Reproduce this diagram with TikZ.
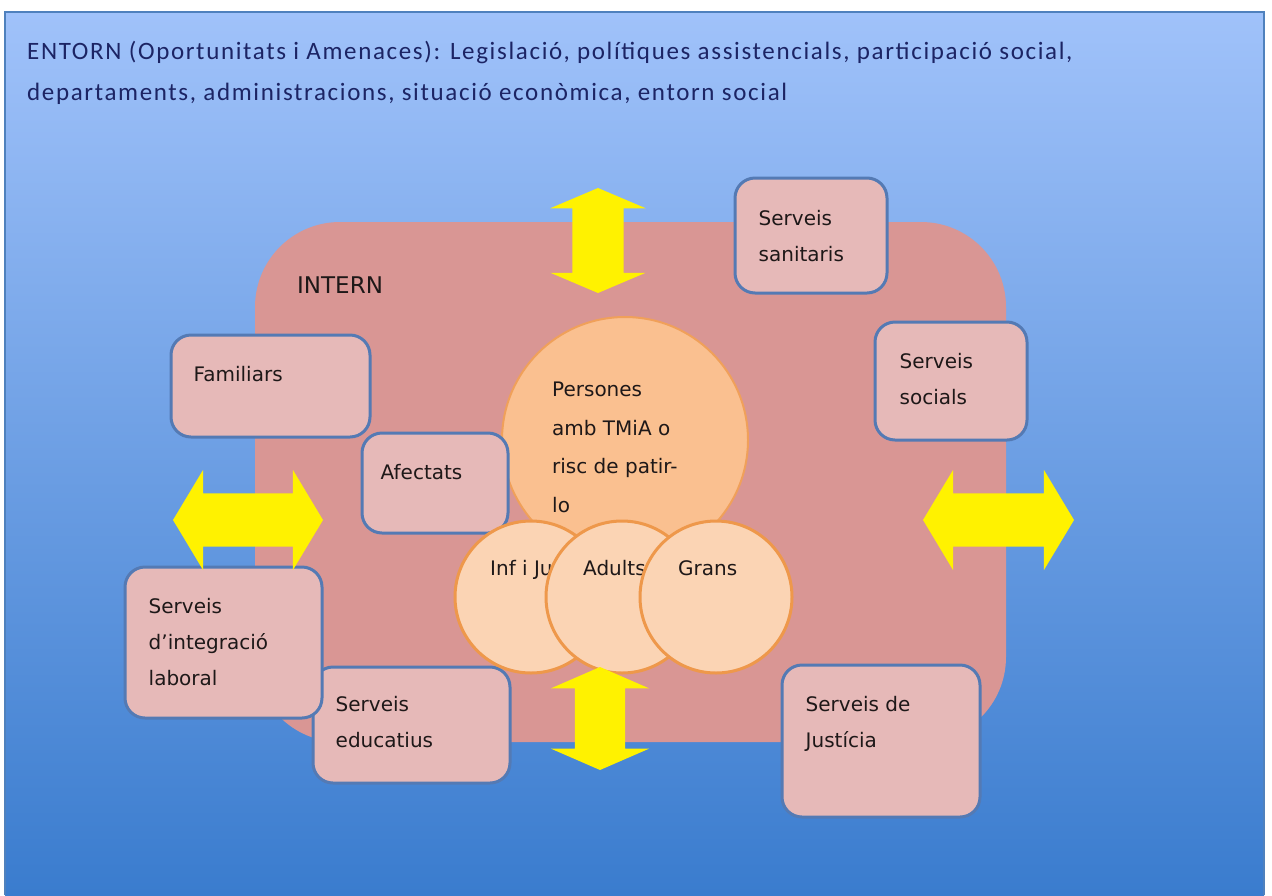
\documentclass[tikz,border=0pt]{standalone}
\usepackage{fontspec}
\setmainfont{DejaVu Sans}
\newfontfamily\headfont[LetterSpace=6.6]{Carlito}
\usetikzlibrary{shapes.arrows}

\definecolor{skytop}{RGB}{160,194,250}
\definecolor{skybot}{RGB}{58,124,206}
\definecolor{skyline}{RGB}{79,129,189}
\definecolor{interncol}{RGB}{217,150,148}
\definecolor{boxfill}{RGB}{230,185,184}
\definecolor{boxline}{RGB}{84,122,180}
\definecolor{persfill}{RGB}{250,192,144}
\definecolor{persline}{RGB}{240,160,90}
\definecolor{agefill}{RGB}{251,212,180}
\definecolor{ageline}{RGB}{238,152,75}
\definecolor{navytext}{RGB}{28,36,100}
\definecolor{darktext}{RGB}{30,24,24}

\begin{document}
\begin{tikzpicture}[x=1pt, y=-1pt,
  service/.style={draw=boxline, line width=3pt, fill=boxfill, rounded corners=20pt, inner sep=0pt},
  agegroup/.style={circle, draw=ageline, line width=3pt, fill=agefill, minimum size=152pt, inner sep=0pt},
  lbl/.style={font=\fontsize{20}{36}\selectfont, text=darktext, align=left, inner sep=0pt, anchor=north west},
  twoway/.style={double arrow, fill=yellow, draw=none, inner xsep=0pt}
]

% Page and the blue ENTORN panel
\useasboundingbox (0,0) rectangle (1272,895);
\fill[white] (0,0) rectangle (1272,895);
\shade[top color=skytop, bottom color=skybot] (5,12) rectangle (1264,895);
\draw[skyline, line width=2pt] (5,895) -- (5,12) -- (1264,12) -- (1264,895);

% Header text
\node[anchor=base west, inner sep=0pt, text=navytext, font=\headfont\fontsize{25}{25}\selectfont] (hdr1) at (27,59)
  {ENTORN (Oportunitats i Amenaces): Legislació, polítiques assistencials, participació social,};
\node[anchor=base west, inner sep=0pt, text=navytext, font=\headfont\fontsize{25}{25}\selectfont] (hdr2) at (27,100)
  {departaments, administracions, situació econòmica, entorn social};

% The INTERN area
\node[fill=interncol, rounded corners=85pt, minimum width=751pt, minimum height=520pt, inner sep=0pt] (intern) at (630.5,482) {};
\node[anchor=base west, inner sep=0pt, text=darktext, font=\fontsize{23}{23}\selectfont] (internlbl) at (297,293) {INTERN};

% Central circle
\node[circle, draw=persline, line width=2pt, fill=persfill, minimum size=246pt, inner sep=0pt] (pers) at (625,440) {};
\node[lbl, font=\fontsize{20}{38.5}\selectfont] (perslbl) at (552,382) {Persones\\amb TMiA o\\risc de patir-\\lo};

% Services around
\node[service, minimum width=152pt, minimum height=115pt] (ssan) at (811,235.5) {};
\node[lbl] (ssanlbl) at ([shift={(25,34)}]ssan.north west) {Serveis\\sanitaris};

\node[service, minimum width=152pt, minimum height=118pt] (ssoc) at (951,381) {};
\node[lbl] (ssoclbl) at ([shift={(26,33)}]ssoc.north west) {Serveis\\socials};

\node[service, minimum width=199pt, minimum height=102pt] (fam) at (270.5,386) {};
\node[lbl] (famlbl) at ([shift={(24,33)}]fam.north west) {Familiars};

\node[service, minimum width=146pt, minimum height=100pt] (afec) at (435,483) {};
\node[lbl] (afeclbl) at ([shift={(20,33)}]afec.north west) {Afectats};

\node[service, minimum width=197pt, minimum height=116pt] (sedu) at (411.5,725) {};
\node[lbl] (sedulbl) at ([shift={(24,31)}]sedu.north west) {Serveis\\educatius};

\node[service, minimum width=197pt, minimum height=151pt] (sint) at (223.5,642.5) {};
\node[lbl] (sintlbl) at ([shift={(25,33)}]sint.north west) {Serveis\\d’integració\\laboral};

\node[service, minimum width=198pt, minimum height=152pt] (sjus) at (881,741) {};
\node[lbl] (sjuslbl) at ([shift={(25,33)}]sjus.north west) {Serveis de\\Justícia};

% Age groups
\node[agegroup] (infj) at (531,597) {};
\node[lbl] (infjlbl) at (490,560) {Inf i Ju};
\node[agegroup] (adul) at (622,597) {};
\node[lbl] (adullbl) at (583,560) {Adults};
\node[agegroup] (gran) at (716,597) {};
\node[lbl] (granlbl) at (678,560) {Grans};

% Two-way arrows
\node[twoway, rotate=90, minimum height=105pt, inner ysep=25.5pt, double arrow head extend=22pt, double arrow tip angle=134] (uparr) at (598,240.5) {};
\node[twoway, rotate=90, minimum height=103pt, inner ysep=25pt, double arrow head extend=24pt, double arrow tip angle=133] (downarr) at (600,718.5) {};
\node[twoway, minimum height=150pt, inner ysep=26.5pt, double arrow head extend=23.5pt, double arrow tip angle=118] (leftarr) at (248,520) {};
\node[twoway, minimum height=151pt, inner ysep=26.5pt, double arrow head extend=23.5pt, double arrow tip angle=118] (rightarr) at (998.5,520) {};

\end{tikzpicture}
\end{document}
